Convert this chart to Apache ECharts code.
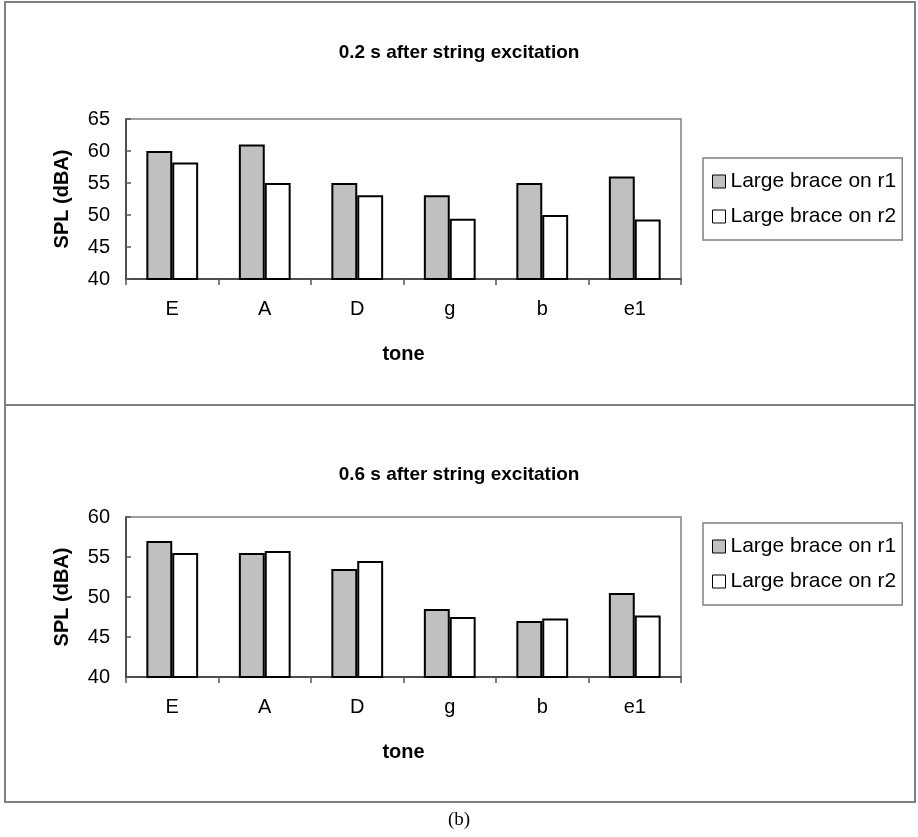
<!DOCTYPE html>
<html>
<head>
<meta charset="utf-8">
<script src="https://cdn.jsdelivr.net/npm/echarts@6/dist/echarts.min.js"></script>
<style>
html,body{margin:0;padding:0;background:#fff;}
#chart{width:918px;height:837px;}
</style>
</head>
<body>
<div id="chart"></div>
<script>
// ---- data ----
const categories = ['E', 'A', 'D', 'g', 'b', 'e1'];
const seriesNames = ['Large brace on r1', 'Large brace on r2'];
const top_r1 = [60, 61, 55, 53.1, 55, 56];
const top_r2 = [58.2, 55, 53.1, 49.4, 50, 49.3];
const bot_r1 = [57, 55.5, 53.5, 48.5, 47, 50.5];
const bot_r2 = [55.5, 55.75, 54.5, 47.5, 47.3, 47.7];
const titles = ['0.2 s after string excitation', '0.6 s after string excitation'];
const caption = '(b)';
const yAxisName = 'SPL (dBA)';
const xAxisName = 'tone';
const topYRange = [40, 65];
const botYRange = [40, 60];
const yStep = 5;

// ---- styling ----
const FONT = '"Liberation Sans", Arial, sans-serif';
const colors = ['#C0C0C0', '#FFFFFF'];

function xAxis(gi) {
  return {
    type: 'category', gridIndex: gi, data: categories,
    axisLine: { lineStyle: { color: '#333', width: 1.5 } },
    axisTick: { show: true, length: 6, lineStyle: { color: '#555', width: 1.5 } },
    axisLabel: { color: '#000', fontSize: 20, fontFamily: FONT, margin: 20 },
    name: xAxisName, nameLocation: 'middle', nameGap: 65,
    nameTextStyle: { color: '#000', fontSize: 20, fontWeight: 'bold', fontFamily: FONT }
  };
}
function yAxis(gi, range) {
  return {
    type: 'value', gridIndex: gi, min: range[0], max: range[1], interval: yStep,
    splitLine: { show: false },
    axisLine: { show: true, lineStyle: { color: '#333', width: 1.5 } },
    axisTick: { show: true, inside: true, length: 5, lineStyle: { color: '#555', width: 1.5 } },
    axisLabel: { color: '#000', fontSize: 20, fontFamily: FONT, margin: 16 },
    name: yAxisName, nameLocation: 'middle', nameGap: 54, nameRotate: 90,
    nameTextStyle: { color: '#000', fontSize: 20, fontWeight: 'bold', fontFamily: FONT }
  };
}
function bar(name, data, gi, ci) {
  return {
    type: 'bar', name: name, data: data, xAxisIndex: gi, yAxisIndex: gi,
    barGap: '0%', barCategoryGap: '44%',
    itemStyle: { color: colors[ci], borderColor: '#000', borderWidth: 2 },
    emphasis: { disabled: true }, animation: false
  };
}
function legend(top) {
  return {
    orient: 'vertical', left: 703, top: top,
    data: seriesNames,
    icon: 'rect', itemWidth: 13, itemHeight: 13, itemGap: 14,
    padding: [13, 6, 13, 9],
    borderColor: '#808080', borderWidth: 1.5,
    textStyle: { color: '#000', fontSize: 21, fontFamily: FONT },
    itemStyle: { borderColor: '#000', borderWidth: 1 }
  };
}

const chart = echarts.init(document.getElementById('chart'), null, { renderer: 'canvas' });
chart.setOption({
  backgroundColor: '#fff',
  animation: false,
  title: [
    { text: titles[0], left: 'center', top: 38,
      textStyle: { color: '#000', fontSize: 19, fontWeight: 'bold', fontFamily: FONT } },
    { text: titles[1], left: 'center', top: 460,
      textStyle: { color: '#000', fontSize: 19, fontWeight: 'bold', fontFamily: FONT } },
    { text: caption, left: 'center', top: 806,
      textStyle: { color: '#000', fontSize: 19, fontWeight: 'normal', fontFamily: '"Liberation Serif", "Times New Roman", serif' } }
  ],
  legend: [legend(158), legend(523)],
  grid: [
    { left: 126, top: 119, width: 555, height: 160, show: true, borderColor: '#808080', borderWidth: 1.5, containLabel: false },
    { left: 126, top: 517, width: 555, height: 160, show: true, borderColor: '#808080', borderWidth: 1.5, containLabel: false }
  ],
  xAxis: [xAxis(0), xAxis(1)],
  yAxis: [yAxis(0, topYRange), yAxis(1, botYRange)],
  series: [
    bar(seriesNames[0], top_r1, 0, 0),
    bar(seriesNames[1], top_r2, 0, 1),
    bar(seriesNames[0], bot_r1, 1, 0),
    bar(seriesNames[1], bot_r2, 1, 1)
  ],
  graphic: [
    { type: 'rect', shape: { x: 5, y: 2, width: 910, height: 800 },
      style: { fill: 'none', stroke: '#808080', lineWidth: 2 }, silent: true },
    { type: 'line', shape: { x1: 5, y1: 405, x2: 915, y2: 405 },
      style: { stroke: '#808080', lineWidth: 2 }, silent: true }
  ]
});
</script>
</body>
</html>
